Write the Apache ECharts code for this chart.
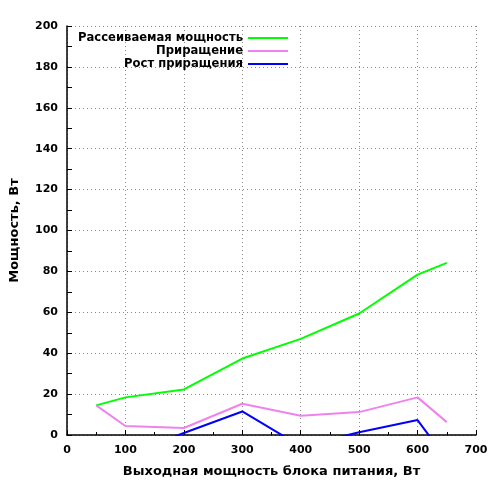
<!DOCTYPE html>
<html><head><meta charset="utf-8">
<script src="https://cdn.jsdelivr.net/npm/echarts@6/dist/echarts.min.js"></script>
<style>html,body{margin:0;padding:0;background:#fff}#c{width:500px;height:500px}</style>
</head><body><div id="c"></div>
<script>
const xValues = [50, 100, 200, 300, 400, 500, 600, 650];
const dissipated = [14.5, 18.4, 22.3, 37.4, 47, 59.4, 78.4, 84.2];
const increment = [14.5, 4.4, 3.4, 15.3, 9.4, 11.2, 18.4, 6.3];
const incrementGrowth = [null, -10, 1, 11.5, -5.5, 1.3, 7.3, -12];
const seriesNames = ['Рассеиваемая мощность', 'Приращение', 'Рост приращения'];
const seriesColors = ['#00ff00', '#ee82ee', '#0000ff'];
const xTitle = 'Выходная мощность блока питания, Вт';
const yTitle = 'Мощность, Вт';

const font = 'DejaVu Sans';
const pair = (ys) => xValues.map((x, i) => [x, ys[i]]);
const allData = [dissipated, increment, incrementGrowth];

const chart = echarts.init(document.getElementById('c'), null, {renderer: 'canvas'});
const legendTops = [32, 45, 58];
chart.setOption({
  animation: false,
  backgroundColor: '#fff',
  grid: {left: 65, right: 24, top: 26, bottom: 65, containLabel: false},
  legend: seriesNames.map((n, i) => ({
    data: [n], right: 212, top: legendTops[i], orient: 'vertical', align: 'right',
    padding: 0, itemWidth: 40, itemHeight: 2, icon: 'rect', selectedMode: false,
    textStyle: {fontFamily: font, fontWeight: 'bold', fontSize: 11.6, color: '#000'}
  })),
  xAxis: {
    type: 'value', min: 0, max: 700, interval: 100,
    name: xTitle, nameLocation: 'middle', nameGap: 30,
    nameTextStyle: {fontFamily: font, fontWeight: 'bold', fontSize: 13, color: '#000'},
    axisLine: {show: true, onZero: false, lineStyle: {color: '#000', width: 1.5}},
    axisTick: {show: true, inside: true, length: 5, lineStyle: {color: '#000'}},
    minorTick: {show: true, splitNumber: 2, length: 3, lineStyle: {color: '#000'}},
    axisLabel: {fontFamily: font, fontWeight: 'bold', fontSize: 11, color: '#000', margin: 10},
    splitLine: {show: true, lineStyle: {color: '#888', type: [1, 3], width: 1}}
  },
  yAxis: {
    type: 'value', min: 0, max: 200, interval: 20,
    name: yTitle, nameLocation: 'middle', nameGap: 46, nameRotate: 90,
    nameTextStyle: {fontFamily: font, fontWeight: 'bold', fontSize: 13, color: '#000'},
    axisLine: {show: true, onZero: false, lineStyle: {color: '#000', width: 1.5}},
    axisTick: {show: true, inside: true, length: 5, lineStyle: {color: '#000'}},
    minorTick: {show: true, splitNumber: 2, length: 5, lineStyle: {color: '#000'}},
    axisLabel: {fontFamily: font, fontWeight: 'bold', fontSize: 11, color: '#000', margin: 9},
    splitLine: {show: true, lineStyle: {color: '#888', type: [1, 3], width: 1}}
  },
  series: seriesNames.map((n, i) => ({
    name: n, type: 'line', data: pair(allData[i]), showSymbol: false, symbol: 'none',
    clip: true, connectNulls: false,
    color: seriesColors[i],
    lineStyle: {color: seriesColors[i], width: 2},
    itemStyle: {color: seriesColors[i]}
  }))
});
</script></body></html>
